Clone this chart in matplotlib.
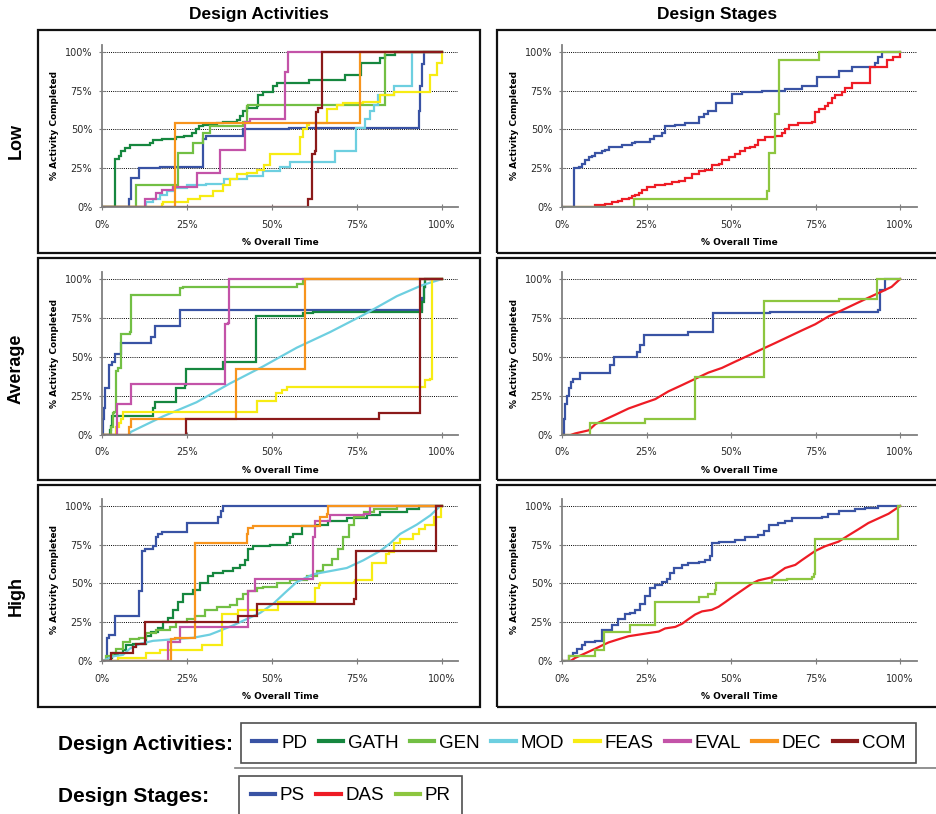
import matplotlib
matplotlib.use("Agg")
import matplotlib.pyplot as plt
from matplotlib.lines import Line2D
from matplotlib.patches import Rectangle

# ---- data: (% overall time, % activity completed) breakpoints
ACTIVITIES = ["PD", "GATH", "GEN", "MOD", "FEAS", "EVAL", "DEC", "COM"]
STAGES = ["PS", "DAS", "PR"]
ROWS = ["Low", "Average", "High"]

low_pd = [(0, 0), (7.9, 5), (8.6, 19), (11, 25), (17, 26), (29.8, 44), (30.5, 46), (41.5, 50), (55, 51),
          (92.6, 51), (93.2, 62), (93.6, 78), (94.1, 92), (94.6, 100), (100, 100)]
low_gath = [(0, 0), (3.9, 31), (5, 33), (5.7, 36), (6.7, 38), (8.2, 40), (14, 41), (15, 43), (17.5, 44),
            (21.9, 45), (24, 46), (26.5, 48), (27.5, 50), (28.5, 52), (29.8, 53), (33.7, 54), (35.7, 55),
            (39.6, 56), (40.5, 59), (41.5, 62), (42.5, 64), (45.5, 65), (46, 72), (47.4, 74), (50.4, 78),
            (51.4, 80), (61, 82), (71.5, 85), (76.2, 93), (81.8, 96), (83.3, 98), (86.2, 100), (100, 100)]
low_gen = [(0, 0), (10.1, 14), (22.4, 35), (26.8, 41), (29.8, 48), (31.7, 52), (41.5, 55), (42.5, 65),
           (43, 66), (83.3, 100), (100, 100)]
low_mod = [(0, 0), (13, 3), (15, 5), (17, 8), (19, 10), (21, 12), (24.9, 14), (30.7, 15), (36, 18), (42.5, 20),
           (47.4, 23), (52.4, 26), (55.3, 29), (68.6, 36), (74.8, 51), (77.4, 57), (78.8, 62), (79.9, 66),
           (81.3, 72), (85.8, 78), (91.2, 100), (100, 100)]
low_feas = [(0, 0), (17.5, 2), (18, 3), (25.3, 5), (28.8, 7), (32.7, 10), (35.7, 14), (37.6, 18), (39.6, 21),
            (42.5, 22), (45.5, 24), (47.5, 27), (49.4, 34), (58.3, 45), (59, 50), (60.2, 53), (61, 54),
            (66.1, 63), (69, 66), (71, 67), (76.9, 68), (81.8, 72), (85.8, 74), (96.6, 85), (98.5, 93),
            (100, 100)]
low_eval = [(0, 0), (12.6, 5), (16, 9), (17.5, 11), (20.9, 13), (27.8, 22), (34.7, 37), (42, 55), (43.5, 57),
            (53.8, 87), (54.8, 100), (100, 100)]
low_dec = [(0, 0), (21.6, 54), (75.9, 100), (100, 100)]
low_com = [(0, 0), (60.7, 5), (61.7, 34), (62.5, 36), (63, 61), (63.6, 64), (64.6, 100), (100, 100)]

avg_pd = [(0, 0), (0.3, 10), (0.5, 17), (1, 30), (2, 45), (2.8, 47), (3.7, 52), (5.7, 59), (14.5, 63),
          (15.5, 70), (22.9, 80), (94.1, 88), (94.6, 95), (95, 100), (100, 100)]
avg_gath = [(0, 0), (2.3, 3), (2.5, 6), (3, 12), (15, 17), (15.5, 21), (21.9, 30), (24.4, 32), (24.6, 42),
            (35.7, 47), (45.2, 76), (59.2, 78), (62.2, 79), (94.1, 85), (94.6, 95), (95, 100), (100, 100)]
avg_gen = [(0, 0), (2.5, 5), (3.2, 14), (3.5, 15), (4.2, 41), (4.7, 43), (5.7, 65), (8.2, 66), (8.4, 79),
           (8.6, 90), (22.9, 94), (23.9, 95), (57.3, 97), (59.2, 100), (100, 100)]
avg_mod = [(0, 0), (7.9, 0), (8.5, 2), (18, 12), (27.8, 21), (37.6, 33), (47.4, 44), (57.3, 56), (67.1, 66),
           (76.9, 77), (86.7, 89), (94.1, 96), (97, 98), (100, 100)]
avg_feas = [(0, 0), (4.2, 5), (5, 8), (5.7, 10), (6.2, 15), (45.5, 22), (51.2, 27), (52.8, 29), (54.3, 31),
            (95, 35), (96.6, 36), (97, 100), (100, 100)]
avg_eval = [(0, 0), (4.4, 20), (8.6, 33), (36.1, 71), (37.2, 72), (37.4, 100), (100, 100)]
avg_dec = [(0, 0), (8, 5), (8.6, 10), (39.3, 42), (59.7, 100), (100, 100)]
avg_com = [(0, 0), (24.6, 10), (81.6, 14), (93.4, 100), (100, 100)]

high_pd = [(0, 0), (1.6, 15), (2.1, 17), (3.7, 29), (11, 45), (11.9, 71), (12.6, 72), (15, 74), (15.8, 80),
           (16.5, 82), (17.5, 83), (24.9, 89), (34.2, 93), (35, 97), (35.7, 100), (100, 100)]
high_gath = [(0, 0), (2.3, 2), (3, 4), (4.7, 5), (6.2, 7), (7.2, 10), (9.1, 11), (13, 16), (14.5, 19),
             (16.5, 21), (18, 25), (19.5, 28), (21, 33), (22.4, 38), (23.9, 43), (26.8, 46), (28.8, 50),
             (31.2, 55), (32.7, 57), (35.7, 58), (38.6, 60), (40.5, 62), (42, 65), (43, 72), (44.5, 74),
             (49.4, 75), (54.3, 76), (55.3, 80), (56.3, 82), (58.7, 87), (63.2, 88), (66.6, 90), (72, 92),
             (77.9, 94), (81.8, 96), (89.7, 98), (93.1, 100), (100, 100)]
high_gen = [(0, 0), (1.3, 3), (3.2, 5), (4.2, 8), (6.2, 12), (8.2, 14), (11, 15), (13, 18), (16, 20),
            (19.9, 22), (21.9, 25), (24.9, 27), (27.3, 29), (30.3, 33), (33.7, 35), (37.6, 36), (39.6, 40),
            (41.5, 43), (43, 45), (45.5, 47), (47.4, 48), (51.4, 50), (55.3, 52), (60.2, 55), (63.2, 58),
            (65.1, 62), (67.6, 66), (69.5, 72), (71, 80), (72.5, 88), (74, 93), (77, 96), (79.9, 98),
            (86.7, 100), (100, 100)]
high_mod = [(0, 0), (2.3, 2), (3.2, 3), (6.2, 4), (8.2, 8), (11.1, 11), (15, 13), (20.9, 14), (26.8, 15),
            (31.7, 17), (35.2, 20), (38.6, 23), (42.5, 27), (46.5, 31), (50.4, 37), (53.8, 44), (57.3, 51),
            (62.2, 56), (67.1, 58), (72, 60), (76.9, 65), (81.8, 71), (84.8, 76), (87.7, 82), (92.6, 88),
            (96.6, 94), (99.5, 100), (100, 100)]
high_feas = [(0, 0), (4.7, 2), (13, 5), (17, 7), (29.3, 10), (35.2, 30), (40, 33), (51.9, 38), (62.7, 47),
             (63.8, 49), (64, 50), (74, 51), (74.5, 52), (79.4, 63), (83.5, 69), (84.3, 70), (85.8, 76),
             (87.7, 79), (91.6, 82), (93.1, 85), (95.1, 88), (97.5, 93), (99.8, 100), (100, 100)]
high_eval = [(0, 0), (19.3, 12), (22.9, 22), (43, 45), (45, 53), (62.2, 80), (62.7, 90), (67.1, 94),
             (77, 95), (78.9, 100), (100, 100)]
high_dec = [(0, 0), (20.4, 14), (21.4, 15), (27.3, 76), (42.5, 82), (43, 86), (44.5, 87), (64.1, 93),
            (66.3, 95), (66.6, 100), (100, 100)]
high_com = [(0, 0), (2.5, 5), (9.1, 9), (10, 11), (12.6, 25), (40.1, 29), (45.5, 37), (74, 40), (74.8, 71),
            (98.3, 100), (100, 100)]

low_ps = [(0, 0), (3.6, 25), (4.9, 26), (5.9, 28), (6.9, 30), (7.9, 32), (8.9, 33), (9.9, 35), (11.8, 36),
          (12.8, 37), (13.8, 39), (17.7, 40), (20.7, 41), (21.7, 42), (26.1, 44), (27.1, 46), (29.6, 48),
          (30.5, 52), (33.5, 53), (36.5, 54), (40.4, 58), (41.9, 60), (43.3, 62), (45.6, 67), (50.2, 73),
          (53.2, 74), (59.1, 75), (66, 76), (70.9, 78), (75.4, 84), (81.8, 88), (85.7, 90), (92.6, 93),
          (93.6, 97), (94.6, 100), (100, 100)]
low_das = [(0, 0), (9.9, 1), (12.8, 2), (14.8, 3), (16.7, 4), (17.7, 5), (19.7, 6), (20.7, 7), (21.7, 8),
           (22.7, 9), (23.6, 11), (25.1, 13), (27.6, 14), (30.5, 15), (32.5, 16), (34.5, 17), (36.5, 19),
           (38.4, 21), (40.4, 23), (42.4, 24), (44.3, 27), (46.3, 28), (47.3, 30), (49.3, 32), (51.2, 34),
           (52.7, 36), (54.2, 38), (55.7, 39), (57.1, 40), (58.1, 43), (60.1, 45), (63.1, 46), (65, 48),
           (66, 50), (67, 53), (69.9, 54), (73.9, 55), (74.7, 61), (75.9, 63), (77.8, 65), (78.8, 67),
           (79.8, 70), (80.8, 72), (82.8, 74), (83.7, 77), (85.7, 80), (91.1, 90), (96.1, 95), (97.8, 97),
           (100, 100)]
low_pr = [(0, 0), (21.2, 5), (60.6, 10), (61.2, 35), (62.9, 60), (64.3, 95), (75.9, 100), (100, 100)]

avg_ps = [(0, 0), (0.5, 10), (1, 20), (1.5, 25), (2.2, 30), (2.8, 34), (3.4, 36), (5.4, 40), (14.3, 45),
          (15.3, 50), (22.2, 53), (23.2, 58), (24.2, 59), (24.4, 64), (37.4, 66), (44.8, 78), (61.6, 79),
          (93.6, 80), (94.1, 93), (95.6, 100), (100, 100)]
avg_das = [(0, 0), (2.5, 0), (3.9, 1), (5.9, 2), (7.9, 3), (9.9, 7), (12.8, 10), (15.8, 13), (19.7, 17),
           (23.6, 20), (27.6, 23), (31.5, 28), (35.5, 32), (39.4, 36), (43.3, 40), (47.3, 43), (51.2, 47),
           (55.2, 51), (59.1, 55), (63.1, 59), (67, 63), (70.9, 67), (74.9, 71), (78.8, 76), (82.8, 80),
           (86.7, 84), (90.6, 88), (94.6, 92), (97.5, 95), (100, 100)]
avg_pr = [(0, 0), (8.4, 8), (24.6, 10), (39.2, 37), (59.6, 86), (81.8, 87), (93.1, 100), (100, 100)]

high_ps = [(0, 0), (2, 3), (3.4, 5), (4.4, 8), (5.9, 10), (6.9, 12), (9.9, 13), (11.8, 20), (14.8, 23),
           (16.7, 27), (18.7, 30), (20.2, 31), (21.7, 33), (23.2, 37), (24.6, 42), (26.1, 47), (27.6, 49),
           (29.6, 51), (31, 53), (32, 57), (33, 60), (35.5, 62), (37.4, 63), (40.4, 64), (42.4, 65),
           (43.8, 68), (44.5, 76), (46.3, 77), (51.2, 78), (54.2, 80), (58.1, 81), (59.6, 84), (61.1, 88),
           (64, 89), (66, 90), (68, 92), (76.8, 93), (78.8, 95), (81.8, 97), (86.7, 98), (89.7, 99),
           (93.6, 100), (100, 100)]
high_das = [(0, 0), (2.5, 0), (3.9, 2), (5.9, 4), (7.9, 6), (9.9, 8), (11.8, 10), (13.8, 12), (16.7, 14),
            (19.7, 16), (22.7, 17), (25.6, 18), (28.6, 19), (30.5, 21), (33.5, 22), (35.5, 24), (37.4, 27),
            (39.4, 30), (41.4, 32), (44.3, 33), (46.3, 35), (48.3, 38), (50.2, 41), (52.2, 44), (54.2, 47),
            (56.2, 50), (58.1, 52), (62.1, 54), (64, 57), (66, 60), (69, 62), (70.9, 65), (72.9, 68),
            (74.9, 71), (77.8, 74), (81.8, 77), (84.7, 81), (87.7, 85), (90.6, 89), (93.6, 92), (96.6, 95),
            (100, 100)]
high_pr = [(0, 0), (2, 3), (9.9, 7), (12.3, 19), (20.2, 23), (27.6, 38), (40.4, 41), (43.3, 43), (45.3, 46),
           (45.5, 50), (62.1, 52), (66.5, 53), (74, 54), (74.5, 56), (74.9, 79), (99.5, 100), (100, 100)]

ACT_COLORS = {"PD": "#3953a4", "GATH": "#16873f", "GEN": "#72bf44", "MOD": "#6dcfe0",
              "FEAS": "#f7ec13", "EVAL": "#c353a8", "DEC": "#f7941d", "COM": "#8b1a1a"}
STAGE_COLORS = {"PS": "#3953a4", "DAS": "#ee1c25", "PR": "#8dc63f"}

activity_data = [
    dict(zip(ACTIVITIES, [low_pd, low_gath, low_gen, low_mod, low_feas, low_eval, low_dec, low_com])),
    dict(zip(ACTIVITIES, [avg_pd, avg_gath, avg_gen, avg_mod, avg_feas, avg_eval, avg_dec, avg_com])),
    dict(zip(ACTIVITIES, [high_pd, high_gath, high_gen, high_mod, high_feas, high_eval, high_dec, high_com])),
]
stage_data = [
    dict(zip(STAGES, [low_ps, low_das, low_pr])),
    dict(zip(STAGES, [avg_ps, avg_das, avg_pr])),
    dict(zip(STAGES, [high_ps, high_das, high_pr])),
]
# near-continuous staircases drawn as plain lines
SMOOTH = {id(avg_mod), id(avg_das), id(high_das), id(high_mod)}

W, H = 937, 814
fig = plt.figure(figsize=(W / 100, H / 100), dpi=100)


def fx(px):
    return px / W


def fy(py):
    return 1 - py / H


ROW_PX = [(45, 207), (272, 435), (499, 661)]
COL_PX = [(102, 458, 104.7), (562, 917, 105.0)]
FRAME_ROWS = [(30, 252.5), (257.5, 479.5), (485, 706.5)]
FRAME_COLS = [(38.3, 480), (497, 937.5)]

TICKS = [0, 25, 50, 75, 100]
TICK_LABELS = ["0%", "25%", "50%", "75%", "100%"]


def style_axes(ax, xmax):
    ax.set_xlim(0, xmax)
    ax.set_ylim(0, 104.5)
    ax.set_xticks(TICKS)
    ax.set_xticklabels(TICK_LABELS)
    ax.set_yticks(TICKS)
    ax.set_yticklabels(TICK_LABELS)
    for s in ("top", "right"):
        ax.spines[s].set_visible(False)
    for s in ("left", "bottom"):
        ax.spines[s].set_color("#7f7f7f")
        ax.spines[s].set_linewidth(1.3)
    ax.tick_params(axis="both", direction="inout", length=4, width=0.8, color="#7f7f7f",
                   labelsize=7, labelcolor="#2a2a2a")
    ax.tick_params(axis="y", pad=5)
    ax.tick_params(axis="x", pad=7)
    ax.yaxis.grid(True, linestyle=(0, (1, 1.2)), color="black", linewidth=0.7)
    ax.set_axisbelow(True)
    ax.set_xlabel("% Overall Time", fontsize=6.5, fontweight="bold", labelpad=6)
    ax.set_ylabel("% Activity Completed", fontsize=6.5, fontweight="bold", labelpad=4)
    ax.patch.set_alpha(0)


for r in range(3):
    top, bot = ROW_PX[r]
    for c in range(2):
        left, right, xmax = COL_PX[c]
        ax = fig.add_axes([fx(left), fy(bot), fx(right - left), (bot - top) / H])
        series = activity_data[r] if c == 0 else stage_data[r]
        colors = ACT_COLORS if c == 0 else STAGE_COLORS
        for name, pts in series.items():
            xs = [p[0] for p in pts]
            ys = [p[1] for p in pts]
            ds = "default" if id(pts) in SMOOTH else "steps-post"
            ax.plot(xs, ys, color=colors[name], lw=1.6, drawstyle=ds, solid_joinstyle="miter")
        style_axes(ax, xmax)
        fl, fr = FRAME_COLS[c]
        ft, fb = FRAME_ROWS[r]
        fig.add_artist(Rectangle((fx(fl), fy(fb)), fx(fr - fl), (fb - ft) / H, transform=fig.transFigure,
                                 fill=False, edgecolor="#111111", linewidth=1.6))
    fig.text(fx(16), fy((FRAME_ROWS[r][0] + FRAME_ROWS[r][1]) / 2), ROWS[r], rotation=90,
             ha="center", va="center", fontsize=13, fontweight="bold", family="Liberation Sans")

fig.text(fx(259), fy(15), "Design Activities", ha="center", va="center", fontsize=12.5,
         fontweight="bold", family="Liberation Sans")
fig.text(fx(717), fy(15), "Design Stages", ha="center", va="center", fontsize=12.5,
         fontweight="bold", family="Liberation Sans")

# legends
legend_font = {"family": "Liberation Sans", "size": 13.5}
act_handles = [Line2D([], [], color=ACT_COLORS[n], lw=3) for n in ACTIVITIES]
stage_handles = [Line2D([], [], color=STAGE_COLORS[n], lw=3) for n in STAGES]
common = dict(frameon=True, fancybox=False, handlelength=1.3, handletextpad=0.25, columnspacing=0.62,
              borderpad=0.6, borderaxespad=0, prop=legend_font)
leg1 = fig.legend(act_handles, ACTIVITIES, loc="upper left", bbox_to_anchor=(fx(240.7), fy(723.3)),
                  ncol=8, **common)
leg2 = fig.legend(stage_handles, STAGES, loc="upper left", bbox_to_anchor=(fx(239.3), fy(776)),
                  ncol=3, **common)
for leg in (leg1, leg2):
    leg.get_frame().set_edgecolor("#222222")
    leg.get_frame().set_linewidth(1.2)

fig.add_artist(Line2D([fx(235), fx(937)], [fy(768.3), fy(768.3)], transform=fig.transFigure,
                      color="#7f7f7f", lw=1.2))
fig.text(fx(58), fy(745), "Design Activities:", ha="left", va="center", fontsize=15,
         fontweight="bold", family="Liberation Sans")
fig.text(fx(58), fy(797), "Design Stages:", ha="left", va="center", fontsize=15,
         fontweight="bold", family="Liberation Sans")

fig.savefig("out.png", dpi=100)
